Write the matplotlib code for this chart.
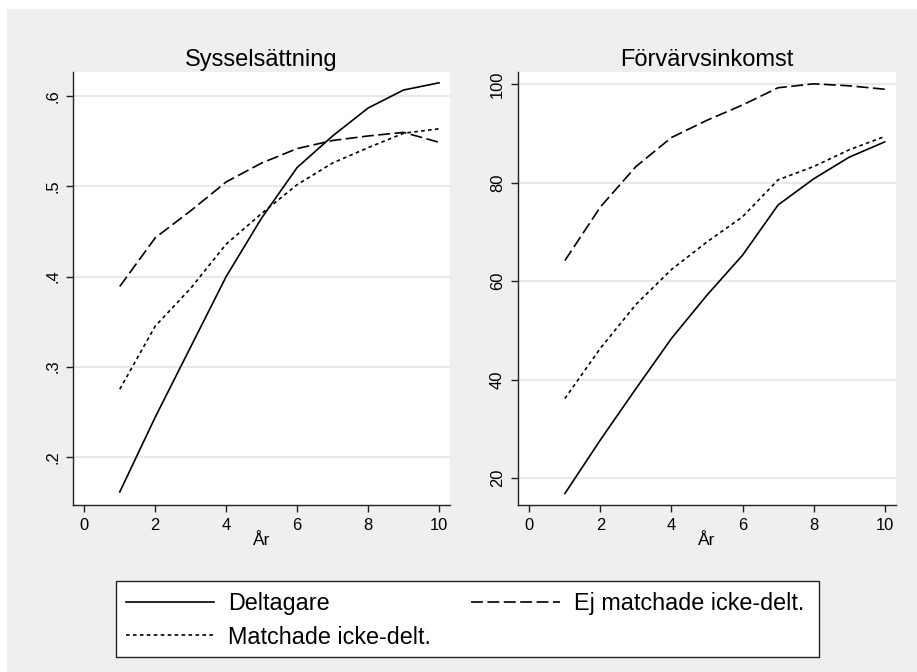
import matplotlib
matplotlib.use("Agg")
import matplotlib.pyplot as plt
from matplotlib.patches import Rectangle

plt.rcParams['font.family'] = ['Liberation Sans', 'DejaVu Sans']
plt.rcParams['lines.scale_dashes'] = False

years = [1, 2, 3, 4, 5, 6, 7, 8, 9, 10]

# Sysselsättning
syss_delt = [0.161, 0.244, 0.322, 0.400, 0.465, 0.521, 0.556, 0.587, 0.607, 0.615]
syss_match = [0.275, 0.345, 0.387, 0.436, 0.470, 0.502, 0.526, 0.543, 0.559, 0.564]
syss_ej = [0.389, 0.443, 0.473, 0.505, 0.526, 0.542, 0.551, 0.556, 0.560, 0.549]

# Förvärvsinkomst
ink_delt = [16.9, 27.8, 38.2, 48.4, 57.2, 65.3, 75.5, 80.8, 85.2, 88.3]
ink_match = [36.2, 46.4, 55.3, 62.4, 68.0, 73.1, 80.6, 83.3, 86.7, 89.4]
ink_ej = [64.2, 75.1, 83.3, 89.2, 92.7, 95.8, 99.3, 100.1, 99.7, 99.0]

xticks = [0, 2, 4, 6, 8, 10]
syss_yticks = [0.2, 0.3, 0.4, 0.5, 0.6]
syss_ylabels = ['.2', '.3', '.4', '.5', '.6']
ink_yticks = [20, 40, 60, 80, 100]

labels = ['Deltagare', 'Matchade icke-delt.', 'Ej matchade icke-delt.']

W, H = 917, 672
fig = plt.figure(figsize=(W / 100, H / 100), dpi=100, facecolor='white')
# grey background with thin white border at top/left
fig.patches.append(Rectangle((7 / W, 0), 1 - 7 / W, 1 - 9 / H, transform=fig.transFigure,
                             facecolor='#efefef', edgecolor='none', zorder=-10))

def px_axes(x0, y0, x1, y1):
    return fig.add_axes([x0 / W, 1 - y1 / H, (x1 - x0) / W, (y1 - y0) / H])

ax1 = px_axes(73.3, 72, 450, 505)
ax2 = px_axes(518.3, 72, 895.7, 505)

solid = dict(color='black', lw=1.2, linestyle='-')
dotted = dict(color='black', lw=1.2, linestyle=(0, (2.6, 2.4)))
dashed = dict(color='black', lw=1.2, linestyle=(0, (8.6, 3.2)))

def style(ax, title, ylim, yticks, ylabels):
    ax.set_facecolor('white')
    ax.set_xlim(-0.31, 10.31)
    ax.set_ylim(*ylim)
    ax.set_xticks(xticks)
    ax.set_yticks(yticks)
    ax.set_yticklabels(ylabels, rotation=90, va='center')
    ax.grid(axis='y', color='#e6e6e6', lw=1.3)
    ax.grid(axis='x', visible=False)
    ax.set_axisbelow(True)
    for s in ['top', 'right']:
        ax.spines[s].set_visible(False)
    for s in ['left', 'bottom']:
        ax.spines[s].set_color('#222222')
        ax.spines[s].set_linewidth(1.0)
    ax.tick_params(direction='out', length=5, width=1.0, color='#222222',
                   labelsize=11.9, pad=4.5)
    ax.set_xlabel('År', fontsize=12.5, labelpad=0)
    ax.set_title(title, fontsize=17, pad=4)

l1, = ax1.plot(years, syss_delt, **solid)
l2, = ax1.plot(years, syss_match, **dotted)
l3, = ax1.plot(years, syss_ej, **dashed)
style(ax1, 'Sysselsättning', (0.1465, 0.627), syss_yticks, syss_ylabels)

ax2.plot(years, ink_delt, **solid)
ax2.plot(years, ink_match, **dotted)
ax2.plot(years, ink_ej, **dashed)
style(ax2, 'Förvärvsinkomst', (14.58, 102.5), ink_yticks, [str(v) for v in ink_yticks])

# legend box
fig.patches.append(Rectangle((116 / W, 1 - 657 / H), (819.3 - 116) / W, (657 - 581) / H,
                             transform=fig.transFigure, facecolor='white',
                             edgecolor='#222222', lw=1.0, zorder=-5))
fig.legend([l1, l2, l3], labels, ncol=2, frameon=False, fontsize=16.8,
           loc='upper left', bbox_to_anchor=(125.7 / W, 1 - 592 / H),
           borderpad=0, borderaxespad=0, handlelength=3.8, handletextpad=0.6,
           columnspacing=1.7, labelspacing=0.45)

fig.savefig('out.png', dpi=100, facecolor=fig.get_facecolor())
